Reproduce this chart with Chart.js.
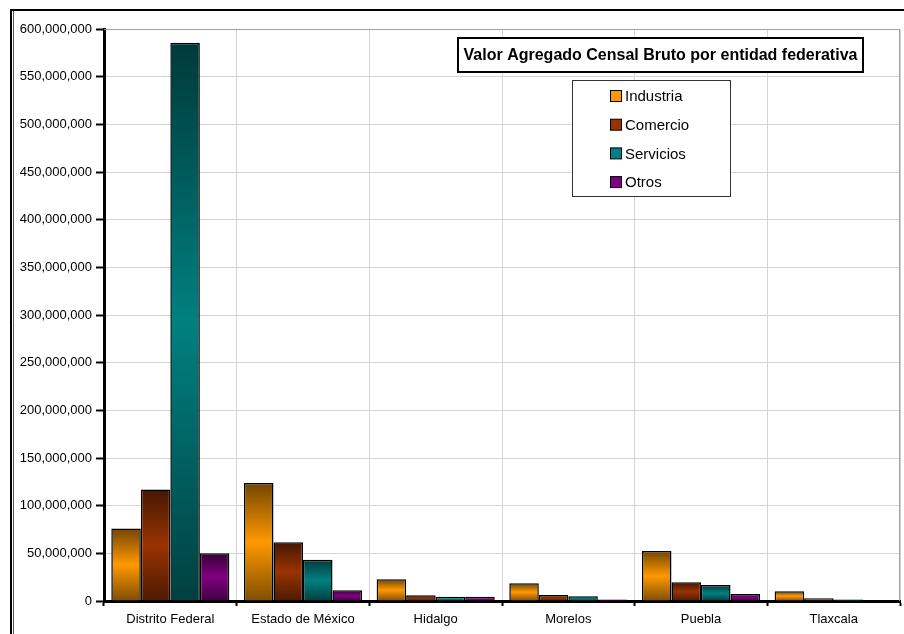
<!DOCTYPE html>
<html>
<head>
<meta charset="utf-8">
<script src="https://cdn.jsdelivr.net/npm/chart.js@4.4.1/dist/chart.umd.min.js"></script>
<style>
  html, body { margin: 0; padding: 0; background: #ffffff; }
  #wrap { width: 904px; height: 634px; position: relative; }
  canvas { display: block; }
</style>
</head>
<body>
<div id="wrap"><canvas id="c" width="904" height="634"></canvas></div>
<script>
// Entidades federativas (categorías del eje X)
const categories = ['Distrito Federal', 'Estado de México', 'Hidalgo', 'Morelos', 'Puebla', 'Tlaxcala'];

// Valor agregado censal bruto por sector (miles de pesos)
const industria = [76100000, 123900000, 22700000, 18500000, 52400000, 10200000];
const comercio  = [117000000, 61500000, 6000000, 6300000, 19600000, 2800000];
const servicios = [585700000, 43300000, 4500000, 4900000, 16800000, 1600000];
const otros     = [50000000, 11200000, 4500000, 1500000, 7300000, 600000];

const seriesNames = ['Industria', 'Comercio', 'Servicios', 'Otros'];
const seriesColors = ['#FF9900', '#993300', '#008080', '#800080'];

// Escala vertical
const yMin = 0;
const yMax = 600000000;
const yStep = 50000000;

const titleText = 'Valor Agregado Censal Bruto por entidad federativa';
const FONT = '"Liberation Sans", Arial, sans-serif';

function shade(hex, f) {
  const n = parseInt(hex.slice(1), 16);
  const r = Math.round(((n >> 16) & 255) * f);
  const g = Math.round(((n >> 8) & 255) * f);
  const b = Math.round((n & 255) * f);
  return `rgb(${r},${g},${b})`;
}

// Relleno degradado vertical (oscuro - claro - oscuro) para cada barra
function barFill(base) {
  return function (ctx) {
    const chart = ctx.chart;
    const ys = chart.scales && chart.scales.y;
    if (!ys || ctx.type !== 'data' || !ctx.parsed) return base;
    const top = ys.getPixelForValue(ctx.parsed.y);
    const bottom = ys.getPixelForValue(0);
    if (!isFinite(top) || !isFinite(bottom) || bottom - top < 2) return base;
    const g = chart.ctx.createLinearGradient(0, top, 0, bottom);
    g.addColorStop(0, shade(base, 0.45));
    g.addColorStop(0.5, base);
    g.addColorStop(1, shade(base, 0.5));
    return g;
  };
}

const seriesData = [industria, comercio, servicios, otros];
const datasets = seriesNames.map((name, i) => ({
  label: name,
  data: seriesData[i],
  backgroundColor: barFill(seriesColors[i]),
  borderColor: '#000000',
  borderWidth: 1.5,
  borderSkipped: 'bottom',
  categoryPercentage: 0.89,
  barPercentage: 1.0
}));

// Marco exterior, recuadro del título y leyenda
const decorations = {
  id: 'decorations',
  beforeDraw(chart) {
    const c = chart.ctx;
    c.save();
    c.fillStyle = '#ffffff';
    c.fillRect(0, 0, chart.width, chart.height);
    c.restore();
  },
  afterDatasetsDraw(chart) {
    const c = chart.ctx;
    const a = chart.chartArea;
    c.save();
    // borde del área de trazado
    c.strokeStyle = '#a0a0a0';
    c.lineWidth = 1;
    c.beginPath();
    c.moveTo(a.left, a.top + 0.5);
    c.lineTo(a.right - 0.5, a.top + 0.5);
    c.lineTo(a.right - 0.5, a.bottom);
    c.stroke();
    c.restore();
  },
  afterDraw(chart) {
    const c = chart.ctx;
    c.save();
    // marco exterior
    c.strokeStyle = '#000000';
    c.lineWidth = 2;
    c.beginPath();
    c.moveTo(10, 10);
    c.lineTo(chart.width, 10);
    c.stroke();
    c.beginPath();
    c.moveTo(11, 9);
    c.lineTo(11, chart.height);
    c.stroke();
    c.strokeStyle = '#555555';
    c.lineWidth = 1;
    c.beginPath();
    c.moveTo(13.5, 11);
    c.lineTo(13.5, chart.height);
    c.stroke();

    // título
    const tx = 458, ty = 38, tw = 405, th = 34;
    c.fillStyle = '#ffffff';
    c.fillRect(tx, ty, tw, th);
    c.strokeStyle = '#000000';
    c.lineWidth = 2;
    c.strokeRect(tx, ty, tw, th);
    c.fillStyle = '#000000';
    c.font = 'bold 16px ' + FONT;
    c.textAlign = 'center';
    c.textBaseline = 'middle';
    c.fillText(titleText, tx + tw / 2, ty + th / 2 + 1);

    // leyenda
    const lx = 572, ly = 80, lw = 158, lh = 116;
    c.fillStyle = '#ffffff';
    c.fillRect(lx, ly, lw, lh);
    c.strokeStyle = '#333333';
    c.lineWidth = 1;
    c.strokeRect(lx + 0.5, ly + 0.5, lw, lh);
    c.font = '15px ' + FONT;
    c.textAlign = 'left';
    c.textBaseline = 'middle';
    chart.data.datasets.forEach((ds, i) => {
      const cy = 96 + i * 28.7;
      c.fillStyle = seriesColors[i];
      c.fillRect(610.5, cy - 5.5, 11, 11);
      c.strokeStyle = '#000000';
      c.lineWidth = 1;
      c.strokeRect(610.5, cy - 5.5, 11, 11);
      c.fillStyle = '#000000';
      c.fillText(ds.label, 625, cy + 1);
    });
    c.restore();
  }
};

new Chart(document.getElementById('c'), {
  type: 'bar',
  data: { labels: categories, datasets },
  plugins: [decorations],
  options: {
    responsive: false,
    animation: false,
    layout: { padding: { top: 29, right: 4, left: 0, bottom: 0 } },
    plugins: {
      legend: { display: false },
      title: { display: false },
      tooltip: { enabled: false }
    },
    scales: {
      x: {
        offset: true,
        grid: {
          offset: true,
          color: '#d4d4d4',
          lineWidth: 1,
          drawTicks: true,
          tickLength: 5,
          tickColor: '#000000',
          tickWidth: 2
        },
        border: { color: '#000000', width: 3 },
        ticks: {
          color: '#000000',
          padding: 6,
          maxRotation: 0,
          autoSkip: false,
          font: { family: FONT, size: 13 }
        },
        afterFit(s) { s.height = 33; }
      },
      y: {
        min: yMin,
        max: yMax,
        grid: {
          color: '#d4d4d4',
          lineWidth: 1,
          drawTicks: true,
          tickLength: 8,
          tickColor: '#000000',
          tickWidth: 2
        },
        border: { color: '#000000', width: 3 },
        ticks: {
          stepSize: yStep,
          color: '#000000',
          padding: 4,
          font: { family: FONT, size: 13 },
          callback: v => Number(v).toLocaleString('en-US')
        },
        afterFit(s) { s.width = 104; }
      }
    }
  }
});
</script>
</body>
</html>
